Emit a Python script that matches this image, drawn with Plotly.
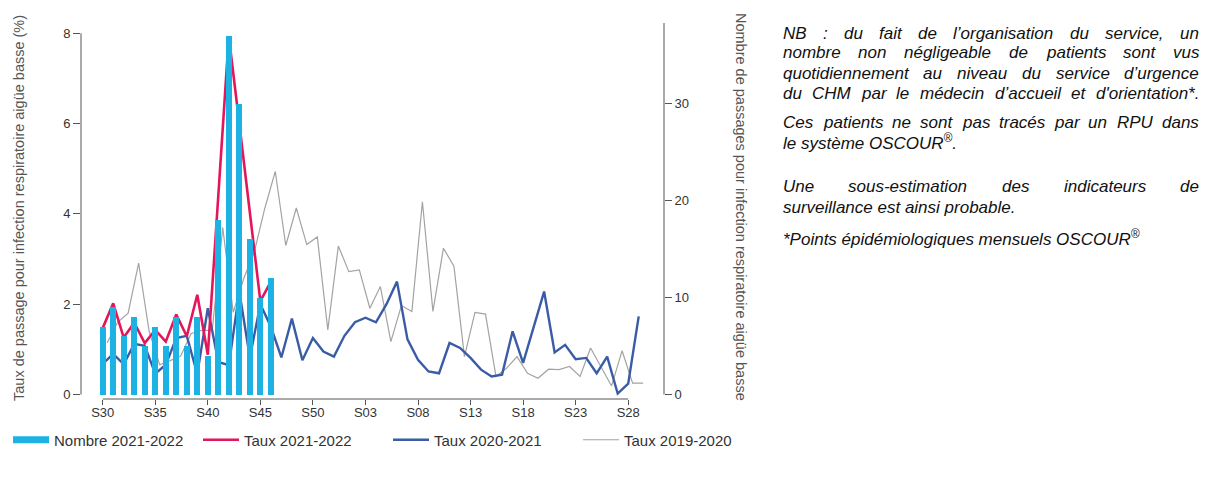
import plotly.graph_objects as go

# ---------------- data ----------------
weeks = ["S30", "S31", "S32", "S33", "S34", "S35", "S36", "S37", "S38", "S39",
         "S40", "S41", "S42", "S43", "S44", "S45", "S46", "S47", "S48", "S49",
         "S50", "S51", "S52", "S01", "S02", "S03", "S04", "S05", "S06", "S07",
         "S08", "S09", "S10", "S11", "S12", "S13", "S14", "S15", "S16", "S17",
         "S18", "S19", "S20", "S21", "S22", "S23", "S24", "S25", "S26", "S27",
         "S28", "S29"]

nombre_2021_2022 = [7, 9, 6, 8, 5, 7, 5, 8, 5, 8, 4, 18, 37, 30, 16, 10, 12]
taux_2021_2022 = [1.47, 2.02, 1.26, 1.59, 1.14, 1.43, 1.17, 1.77, 1.29, 2.21,
                  0.88, 4.4, 7.93, 6.0, 4.1, 2.07, 2.5]
taux_2020_2021 = [0.68, 0.90, 0.67, 1.12, 1.08, 0.46, 0.66, 1.25, 1.30, 0.45,
                  1.91, 0.72, 0.65, 2.28, 0.82, 2.00, 1.50, 0.82, 1.68, 0.76,
                  1.25, 0.95, 0.84, 1.30, 1.60, 1.70, 1.60, 2.00, 2.50, 1.22,
                  0.77, 0.51, 0.47, 1.14, 1.03, 0.81, 0.55, 0.40, 0.44, 1.40,
                  0.70, 1.51, 2.28, 0.93, 1.10, 0.78, 0.81, 0.47, 0.84, 0.02,
                  0.24, 1.73]
taux_2019_2020 = [1.14, 1.60, 1.80, 2.91, 1.40, 0.66, 0.75, 0.85, 1.35, 1.42,
                  1.42, 3.70, 1.82, 2.57, 3.15, 4.12, 4.94, 3.30, 4.13, 3.32,
                  3.49, 1.43, 3.29, 2.72, 2.76, 1.91, 2.39, 1.17, 1.97, 1.84,
                  4.27, 1.84, 3.24, 2.84, 0.84, 1.82, 1.78, 0.40, 0.58, 0.84,
                  0.47, 0.36, 0.56, 0.55, 0.62, 0.40, 1.03, 0.62, 0.19, 0.97,
                  0.25, 0.25]
# the 2019-2020 curve is drawn slightly shifted to the right of the week ticks
shift_2019_2020 = 0.42

left_ticks = [0, 2, 4, 6, 8]
right_ticks = [0, 10, 20, 30]
tick_every = 5

legend_names = ["Nombre 2021-2022", "Taux 2021-2022", "Taux 2020-2021", "Taux 2019-2020"]

note_paragraphs = [
    [("NB : du fait de l’organisation du service, un", True),
     ("nombre non négligeable de patients sont vus", True),
     ("quotidiennement au niveau du service d’urgence", True),
     ("du CHM par le médecin d’accueil et d'orientation*.", True)],
    [("Ces patients ne sont pas tracés par un RPU dans", True),
     ("le système OSCOUR®.", False)],
    [("Une sous-estimation des indicateurs de", True),
     ("surveillance est ainsi probable.", False)],
    [("*Points épidémiologiques mensuels OSCOUR®", False)],
]
note_line_y = [33, 53, 73, 93, 123, 142, 187, 207, 238]

# ---------------- colours / geometry ----------------
C_BAR = "#1CB2E3"
C_RED = "#E2175B"
C_BLUE = "#3A5CA6"
C_GRAY = "#A3A3A3"
AXC = "#555555"
TXT = "#333333"
FONT = "Liberation Sans"

# the page has a default 8px body margin: the figure is sized to fit the window
OFF = 8
W, H = 1216 - OFF, 477 - OFF
PL, PR, PT, PB = 81, 664, 23, 399   # plot area, window pixels

x_idx = list(range(len(weeks)))
x0_px, dx_px = 102.7, 10.51
xr = [(PL - x0_px) / dx_px, (PR - x0_px) / dx_px]
zero_px, s_left, s_right = 394.5, 45.15, 9.7
y1r = [(zero_px - PB) / s_left, (zero_px - PT) / s_left]
y2r = [(zero_px - PB) / s_right, (zero_px - PT) / s_right]


def pxx(px):
    return (px - OFF) / W


def pxy(py):
    return (H - (py - OFF)) / H


fig = go.Figure()

fig.add_trace(go.Bar(x=x_idx[:len(nombre_2021_2022)], y=nombre_2021_2022, yaxis="y2",
                     width=0.58, marker=dict(color=C_BAR, line=dict(width=0)),
                     name=legend_names[0], showlegend=False))
fig.add_trace(go.Scatter(x=[x + shift_2019_2020 for x in x_idx], y=taux_2019_2020,
                         mode="lines", line=dict(color=C_GRAY, width=1.2),
                         name=legend_names[3], showlegend=False))
fig.add_trace(go.Scatter(x=x_idx, y=taux_2020_2021, mode="lines",
                         line=dict(color=C_BLUE, width=2.4),
                         name=legend_names[2], showlegend=False))
fig.add_trace(go.Scatter(x=x_idx[:len(taux_2021_2022)], y=taux_2021_2022, mode="lines",
                         line=dict(color=C_RED, width=2.6),
                         name=legend_names[1], showlegend=False))

# legend entries (in reference order)
for nm, col, wd in [(legend_names[0], C_BAR, 7), (legend_names[1], C_RED, 2.6),
                    (legend_names[2], C_BLUE, 2.4), (legend_names[3], C_GRAY, 1.2)]:
    fig.add_trace(go.Scatter(x=[None], y=[None], mode="lines", name=nm,
                             line=dict(color=col, width=wd), showlegend=True))

shapes = [
    dict(type="line", xref="x domain", yref="y", x0=0, x1=0, y0=left_ticks[0], y1=left_ticks[-1],
         line=dict(color=AXC, width=1)),
    dict(type="line", xref="x domain", yref="y2", x0=1, x1=1, y0=right_ticks[0], y1=y2r[1],
         line=dict(color=AXC, width=1)),
    dict(type="line", xref="x", yref="y domain", x0=0, x1=50, y0=0, y1=0,
         line=dict(color=AXC, width=1)),
]

# ---------------- notes (justified text) ----------------
AW = {' ': 278, "'": 191, '*': 389, ',': 278, '-': 333, '.': 278, ':': 278, '®': 737,
      '’': 222, 'é': 556, 'è': 556,
      'A': 667, 'B': 667, 'C': 722, 'D': 722, 'E': 667, 'F': 611, 'G': 778, 'H': 722,
      'I': 278, 'J': 500, 'K': 667, 'L': 556, 'M': 833, 'N': 722, 'O': 778, 'P': 667,
      'Q': 778, 'R': 722, 'S': 667, 'T': 611, 'U': 722, 'V': 667, 'W': 944, 'X': 667,
      'Y': 667, 'Z': 611,
      'a': 556, 'b': 556, 'c': 500, 'd': 556, 'e': 556, 'f': 278, 'g': 556, 'h': 556,
      'i': 222, 'j': 222, 'k': 500, 'l': 222, 'm': 833, 'n': 556, 'o': 556, 'p': 556,
      'q': 556, 'r': 333, 's': 500, 't': 278, 'u': 556, 'v': 500, 'w': 722, 'x': 500,
      'y': 500, 'z': 500}
NFS = 17
NX0, NX1 = 783, 1199


def tw(s):
    w = 0
    for c in s:
        w += AW.get(c, 556) * (0.7 if c == '®' else 1.0)
    return w / 1000 * NFS


def fmt(s):
    s = s.replace("®", "<sup>®</sup>")
    return "<i>" + s + "</i>"


annotations = []
li = 0
for para in note_paragraphs:
    for text, just in para:
        yy = pxy(note_line_y[li])
        li += 1
        if just:
            words = text.split(" ")
            tot = sum(tw(w) for w in words)
            gap = (NX1 - NX0 - tot) / (len(words) - 1)
            xx = NX0
            for w in words:
                annotations.append(dict(xref="paper", yref="paper", x=pxx(xx), y=yy,
                                        text=fmt(w), showarrow=False, xanchor="left",
                                        yanchor="middle", borderpad=0, borderwidth=0,
                                        font=dict(family=FONT, size=NFS, color="#111111")))
                xx += tw(w) + gap
        else:
            annotations.append(dict(xref="paper", yref="paper", x=pxx(NX0), y=yy,
                                    text=fmt(text), showarrow=False, xanchor="left",
                                    yanchor="middle", borderpad=0, borderwidth=0,
                                    font=dict(family=FONT, size=NFS, color="#111111")))

# axis titles
annotations.append(dict(xref="paper", yref="paper", x=pxx(19), y=pxy(208),
                        text="Taux de passage pour infection respiratoire aigüe basse (%)",
                        textangle=-90, showarrow=False, xanchor="center", yanchor="middle",
                        font=dict(family=FONT, size=14.5, color="#555555")))
annotations.append(dict(xref="paper", yref="paper", x=pxx(741), y=pxy(207),
                        text="Nombre de passages pour infection respiratoire aigüe basse",
                        textangle=90, showarrow=False, xanchor="center", yanchor="middle",
                        font=dict(family=FONT, size=14.5, color="#555555")))

fig.update_layout(
    width=W, height=H,
    margin=dict(l=0, r=0, t=0, b=0, pad=0, autoexpand=False),
    paper_bgcolor="white", plot_bgcolor="white",
    font=dict(family=FONT, size=13, color=TXT),
    bargap=0,
    xaxis=dict(domain=[pxx(PL), pxx(PR)], range=xr, showgrid=False, zeroline=False,
               showline=False, automargin=False,
               tickmode="array", tickvals=x_idx[::tick_every],
               ticktext=weeks[::tick_every], ticks="outside", ticklen=5,
               ticklabelstandoff=-4,
               tickcolor=AXC, tickwidth=1, tickfont=dict(size=13, color=TXT)),
    yaxis=dict(domain=[pxy(PB), pxy(PT)], range=y1r, showgrid=False,
               zeroline=False, showline=False, automargin=False,
               tickmode="array", tickvals=left_ticks, ticks="outside", ticklen=7,
               tickcolor=AXC, tickwidth=1, tickfont=dict(size=13, color=TXT)),
    yaxis2=dict(range=y2r, overlaying="y", side="right", showgrid=False, automargin=False,
                zeroline=False, showline=False, tickmode="array", tickvals=right_ticks,
                ticks="outside", ticklen=7, tickcolor=AXC, tickwidth=1,
                tickfont=dict(size=13, color=TXT)),
    legend=dict(orientation="h", x=0, xanchor="left", y=pxy(440), yanchor="middle",
                entrywidth=139, entrywidthmode="pixels", itemwidth=36,
                bgcolor="rgba(0,0,0,0)", borderwidth=0,
                font=dict(size=15, color=TXT, family=FONT), traceorder="normal"),
    shapes=shapes,
    annotations=annotations,
    showlegend=True,
)

fig.write_html("out.html")
